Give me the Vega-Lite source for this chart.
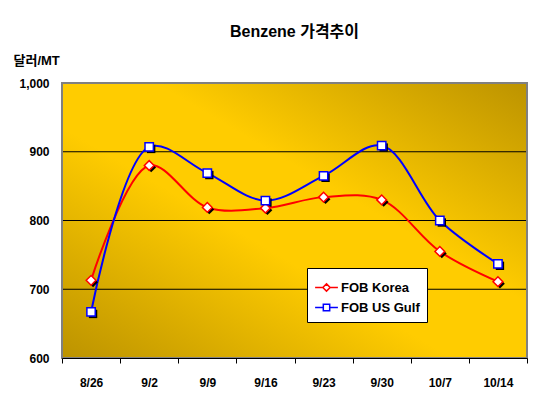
{
  "$schema": "https://vega.github.io/schema/vega-lite/v6.json",
  "width": 465,
  "height": 275,
  "autosize": {"type": "none"},
  "padding": {"left": 62, "top": 83, "right": 33, "bottom": 41},
  "background": "white",
  "title": {
    "text": "Benzene 가격추이",
    "font": "Liberation Sans, Noto Sans CJK KR",
    "fontSize": 16,
    "fontWeight": "bold",
    "color": "black",
    "anchor": "middle",
    "offset": 14
  },
  "config": {
    "view": {"stroke": null},
    "font": "Liberation Sans, Noto Sans CJK KR"
  },
  "data": {
    "values": [
      {"date": "8/26", "series": "FOB Korea", "price": 713},
      {"date": "9/2", "series": "FOB Korea", "price": 880},
      {"date": "9/9", "series": "FOB Korea", "price": 819},
      {"date": "9/16", "series": "FOB Korea", "price": 818},
      {"date": "9/23", "series": "FOB Korea", "price": 834},
      {"date": "9/30", "series": "FOB Korea", "price": 830},
      {"date": "10/7", "series": "FOB Korea", "price": 755},
      {"date": "10/14", "series": "FOB Korea", "price": 711},
      {"date": "8/26", "series": "FOB US Gulf", "price": 667},
      {"date": "9/2", "series": "FOB US Gulf", "price": 907},
      {"date": "9/9", "series": "FOB US Gulf", "price": 869},
      {"date": "9/16", "series": "FOB US Gulf", "price": 829},
      {"date": "9/23", "series": "FOB US Gulf", "price": 865},
      {"date": "9/30", "series": "FOB US Gulf", "price": 909},
      {"date": "10/7", "series": "FOB US Gulf", "price": 800},
      {"date": "10/14", "series": "FOB US Gulf", "price": 737}
    ]
  },
  "encoding": {
    "x": {
      "field": "date",
      "type": "nominal",
      "sort": null,
      "scale": {"paddingInner": 0, "paddingOuter": 0},
      "axis": {
        "title": null,
        "labelAngle": 0,
        "labelFont": "Liberation Sans",
        "labelFontSize": 12,
        "labelFontWeight": "bold",
        "labelColor": "black",
        "labelPadding": 14,
        "tickBand": "extent",
        "tickColor": "black",
        "tickSize": 5,
        "domainColor": "black",
        "domainWidth": 1,
        "zindex": 1
      }
    },
    "y": {
      "field": "price",
      "type": "quantitative",
      "scale": {"domain": [600, 1000], "nice": false, "zero": false},
      "axis": {
        "title": "달러/MT",
        "titleAngle": 0,
        "titleX": -49,
        "titleY": -23,
        "titleAlign": "left",
        "titleBaseline": "middle",
        "titleFont": "Liberation Sans, Noto Sans CJK KR",
        "titleFontSize": 13,
        "titleFontWeight": "bold",
        "titleColor": "black",
        "values": [600, 700, 800, 900, 1000],
        "format": ",.0f",
        "labelFont": "Liberation Sans",
        "labelFontSize": 12,
        "labelFontWeight": "bold",
        "labelColor": "black",
        "labelPadding": 13,
        "ticks": false,
        "domain": false,
        "grid": false
      }
    }
  },
  "layer": [
    {
      "data": {"values": [{}]},
      "mark": {
        "type": "rect",
        "color": {
          "gradient": "linear",
          "x1": 0, "y1": 1, "x2": 1, "y2": 0,
          "stops": [
            {"offset": 0, "color": "#BC9300"},
            {"offset": 0.42, "color": "#FFCC00"},
            {"offset": 0.6, "color": "#FFCC00"},
            {"offset": 1, "color": "#BC9300"}
          ]
        }
      },
      "encoding": {"x": null, "y": null}
    },
    {
      "mark": {"type": "rule", "color": "black", "strokeWidth": 1},
      "data": {"values": [{"g": 700}, {"g": 800}, {"g": 900}]},
      "encoding": {"x": null, "y": {"field": "g", "type": "quantitative"}}
    },
    {
      "data": {"values": [{}]},
      "mark": {"type": "rect", "fill": null, "fillOpacity": 0, "stroke": "#808080", "strokeWidth": 2},
      "encoding": {"x": null, "y": null}
    },
    {
      "mark": {"type": "line", "interpolate": "catmull-rom", "strokeWidth": 2},
      "encoding": {
        "color": {
          "field": "series",
          "type": "nominal",
          "scale": {"domain": ["FOB Korea", "FOB US Gulf"], "range": ["#FF0000", "#0000FF"]},
          "legend": {
            "title": null,
            "orient": "none",
            "legendX": 245,
            "legendY": 185,
            "fillColor": "white",
            "strokeColor": "black",
            "padding": 7,
            "rowPadding": 0,
            "labelFont": "Liberation Sans",
            "labelFontSize": 13,
            "labelFontWeight": "bold",
            "labelColor": "black",
            "labelOffset": 2,
            "symbolSize": 520,
            "symbolStrokeWidth": 1.5,
            "symbolType": "M-1,0H-0.3M0.3,0H1",
            "encode": {
              "symbols": {
                "update": {
                  "shape": {"signal": "datum.value == 'FOB Korea' ? 'M-1,0H-0.32M0.32,0H1M0,-0.32L0.32,0L0,0.32L-0.32,0Z' : 'M-1,0H-0.28M0.28,0H1M-0.28,-0.28H0.28V0.28H-0.28Z'"},
                  "fill": {"value": "white"},
                  "fillOpacity": {"value": 1},
                  "strokeWidth": {"value": 1.5}
                }
              }
            }
          }
        }
      }
    },
    {
      "transform": [{"filter": "datum.series == 'FOB Korea'"}],
      "mark": {"type": "point", "shape": "diamond", "size": 95, "filled": true, "color": "black", "xOffset": 2, "yOffset": 2, "opacity": 1}
    },
    {
      "transform": [{"filter": "datum.series == 'FOB US Gulf'"}],
      "mark": {"type": "point", "shape": "square", "size": 70, "filled": true, "color": "black", "xOffset": 2, "yOffset": 2, "opacity": 1}
    },
    {
      "transform": [{"filter": "datum.series == 'FOB Korea'"}],
      "mark": {"type": "point", "shape": "diamond", "size": 95, "filled": false, "fill": "white", "fillOpacity": 1, "stroke": "#FF0000", "strokeWidth": 1.5, "opacity": 1}
    },
    {
      "transform": [{"filter": "datum.series == 'FOB US Gulf'"}],
      "mark": {"type": "point", "shape": "square", "size": 70, "filled": false, "fill": "white", "fillOpacity": 1, "stroke": "#0000FF", "strokeWidth": 1.5, "opacity": 1}
    }
  ]
}
